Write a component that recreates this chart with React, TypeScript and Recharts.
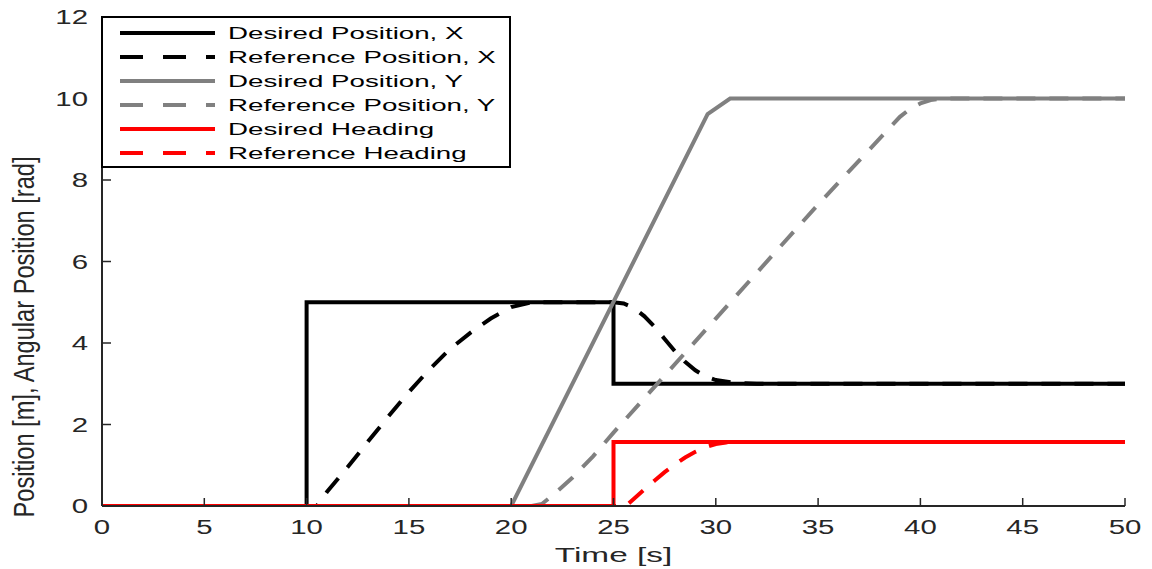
import React from 'react';
import { LineChart, Line, XAxis, YAxis, Legend } from 'recharts';

// ---- data ----
const xTicks = [0, 5, 10, 15, 20, 25, 30, 35, 40, 45, 50];
const yTicks = [0, 2, 4, 6, 8, 10, 12];

const desiredXTime = [0, 10, 10, 25, 25, 50];
const desiredXValue = [0, 0, 5, 5, 3, 3];

const referenceXTime = [0, 10.5, 11, 12, 13, 14, 15, 16, 17, 18, 19, 20, 21, 25, 25.5, 26, 26.5, 27, 27.5, 28, 28.5, 29, 29.5, 30, 31, 32, 50];
const referenceXValue = [0, 0, 0.35, 0.95, 1.58, 2.2, 2.8, 3.35, 3.85, 4.25, 4.6, 4.88, 5.0, 5.0, 4.97, 4.86, 4.66, 4.4, 4.1, 3.8, 3.54, 3.33, 3.18, 3.09, 3.02, 3.0, 3.0];

const desiredYTime = [0, 20, 29.6, 30.7, 50];
const desiredYValue = [0, 0, 9.62, 10, 10];

const referenceYTime = [0, 21, 21.5, 22, 23, 24, 25, 30, 35, 39, 39.5, 40, 40.5, 41, 50];
const referenceYValue = [0, 0, 0.05, 0.25, 0.7, 1.22, 1.8, 4.6, 7.4, 9.55, 9.75, 9.88, 9.96, 10, 10];

const desiredHeadingTime = [0, 25, 25, 50];
const desiredHeadingValue = [0, 0, 1.57, 1.57];

const referenceHeadingTime = [0, 25.6, 26, 26.5, 27, 27.5, 28, 28.5, 29, 29.5, 30, 30.5, 31, 50];
const referenceHeadingValue = [0, 0, 0.18, 0.4, 0.62, 0.83, 1.02, 1.19, 1.33, 1.44, 1.52, 1.56, 1.57, 1.57];

const seriesNames = [
  'Desired Position, X',
  'Reference Position, X',
  'Desired Position, Y',
  'Reference Position, Y',
  'Desired Heading',
  'Reference Heading',
];
const seriesColors = ['#000000', '#000000', '#808080', '#808080', '#ff0000', '#ff0000'];
const seriesDashed = [false, true, false, true, false, true];

const zip = (t: number[], v: number[]) => t.map((x, i) => ({ t: x, v: v[i] }));
const seriesData = [
  zip(desiredXTime, desiredXValue),
  zip(referenceXTime, referenceXValue),
  zip(desiredYTime, desiredYValue),
  zip(referenceYTime, referenceYValue),
  zip(desiredHeadingTime, desiredHeadingValue),
  zip(referenceHeadingTime, referenceHeadingValue),
];

const AXIS = '#262626';
const FONT = '"Liberation Sans", Arial, sans-serif';
const LW = 4;
const DASH = '19 14';

const BottomTick = (p: any) => {
  const { x, y, payload } = p;
  return (
    <g>
      <line x1={x} x2={x} y1={y} y2={y - 8} stroke={AXIS} strokeWidth={1.5} />
      <g transform={`translate(${x},${y + 28}) scale(1.47,1)`}>
        <text x={0} y={0} textAnchor="middle" fontSize={20} fontFamily={FONT} fill={AXIS}>
          {payload.value}
        </text>
      </g>
    </g>
  );
};

const LeftTick = (p: any) => {
  const { x, y, payload } = p;
  return (
    <g>
      <line x1={x} x2={x + 9} y1={y} y2={y} stroke={AXIS} strokeWidth={1.5} />
      <g transform={`translate(${x - 14},${y}) scale(1.47,1)`}>
        <text x={0} y={0} dy="0.36em" textAnchor="end" fontSize={20} fontFamily={FONT} fill={AXIS}>
          {payload.value}
        </text>
      </g>
    </g>
  );
};

const TopTick = (p: any) => {
  const { x, y } = p;
  return <line x1={x} x2={x} y1={y} y2={y + 7} stroke={AXIS} strokeWidth={1.5} />;
};

const RightTick = (p: any) => {
  const { x, y } = p;
  return <line x1={x} x2={x - 9} y1={y} y2={y} stroke={AXIS} strokeWidth={1.5} />;
};

const XLabel = (p: any) => {
  const vb = p.viewBox || { x: 102, y: 506, width: 1023, height: 63 };
  return (
    <g transform={`translate(${vb.x + vb.width / 2},${vb.y + 56}) scale(1.59,1)`}>
      <text x={0} y={0} textAnchor="middle" fontSize={21} fontFamily={FONT} fill={AXIS}>
        Time [s]
      </text>
    </g>
  );
};

const YLabel = (p: any) => {
  const vb = p.viewBox || { x: 0, y: 17, width: 102, height: 489 };
  return (
    <g transform={`translate(${vb.x + 24},${vb.y + 320}) scale(1.45,1) rotate(-90)`}>
      <text
        x={0}
        y={0}
        dy="0.36em"
        textAnchor="middle"
        fontSize={20}
        fontFamily={FONT}
        fill={AXIS}
        textLength={361}
        lengthAdjust="spacingAndGlyphs"
      >
        Position [m], Angular Position [rad]
      </text>
    </g>
  );
};

const LegendBox = () => (
  <svg width={411} height={153} style={{ display: 'block' }}>
    <rect x={1} y={1} width={408} height={150} fill="#ffffff" stroke="#000000" strokeWidth={2} />
    {seriesNames.map((name, i) => {
      const cy = 17 + i * 24;
      return (
        <g key={name}>
          <line
            x1={19}
            x2={114}
            y1={cy}
            y2={cy}
            stroke={seriesColors[i]}
            strokeWidth={LW}
            strokeDasharray={seriesDashed[i] ? '23 20' : undefined}
          />
          <g transform={`translate(127,${cy}) scale(1.63,1)`}>
            <text x={0} y={0} dy="0.36em" fontSize={17} fontFamily={FONT} fill="#000000">
              {name}
            </text>
          </g>
        </g>
      );
    })}
  </svg>
);

export default function App() {
  return (
    <div style={{ position: 'absolute', left: 0, top: 0, background: '#ffffff' }}>
      <LineChart width={1152} height={569} margin={{ top: 17, right: 27, left: 0, bottom: 0 }}>
        <XAxis
          xAxisId="bottom"
          dataKey="t"
          type="number"
          domain={[0, 50]}
          ticks={xTicks}
          allowDataOverflow
          height={63}
          tickSize={0}
          tickMargin={0}
          tickLine={false}
          axisLine={{ stroke: AXIS, strokeWidth: 2 }}
          tick={<BottomTick />}
          interval={0}
          label={<XLabel />}
        />
        <XAxis
          xAxisId="top"
          orientation="top"
          dataKey="t"
          type="number"
          domain={[0, 50]}
          ticks={xTicks}
          allowDataOverflow
          height={0}
          tickSize={0}
          tickMargin={0}
          tickLine={false}
          axisLine={{ stroke: AXIS, strokeWidth: 2 }}
          tick={<TopTick />}
          interval={0}
        />
        <YAxis
          yAxisId="left"
          type="number"
          domain={[0, 12]}
          ticks={yTicks}
          allowDataOverflow
          width={102}
          tickSize={0}
          tickMargin={0}
          tickLine={false}
          axisLine={{ stroke: AXIS, strokeWidth: 2 }}
          tick={<LeftTick />}
          interval={0}
          label={<YLabel />}
        />
        <YAxis
          yAxisId="right"
          orientation="right"
          type="number"
          domain={[0, 12]}
          ticks={yTicks}
          allowDataOverflow
          width={0}
          tickSize={0}
          tickMargin={0}
          tickLine={false}
          axisLine={{ stroke: AXIS, strokeWidth: 2 }}
          tick={<RightTick />}
          interval={0}
        />
        {seriesData.map((d, i) => (
          <Line
            key={seriesNames[i]}
            xAxisId="bottom"
            yAxisId="left"
            data={d}
            dataKey="v"
            name={seriesNames[i]}
            type="linear"
            stroke={seriesColors[i]}
            strokeWidth={LW}
            strokeDasharray={seriesDashed[i] ? DASH : undefined}
            dot={false}
            activeDot={false}
            isAnimationActive={false}
          />
        ))}
        <Line
          xAxisId="top"
          yAxisId="right"
          data={seriesData[0]}
          dataKey="v"
          stroke="none"
          strokeWidth={0}
          dot={false}
          activeDot={false}
          legendType="none"
          isAnimationActive={false}
        />
        <Legend
          layout="horizontal"
          verticalAlign="middle"
          align="center"
          wrapperStyle={{ left: 101, top: 16, width: 411, height: 153 }}
          content={() => <LegendBox />}
        />
      </LineChart>
    </div>
  );
}
